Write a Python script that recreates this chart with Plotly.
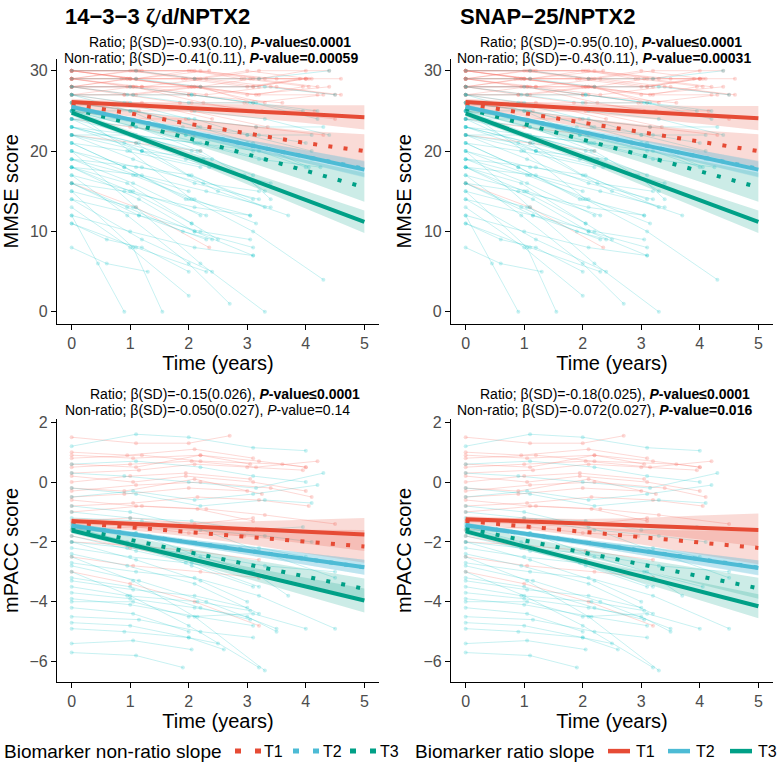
import plotly.graph_objects as go

W, H = 777, 768
SANS = "Liberation Sans, Arial, sans-serif"

TIERS = ["T1", "T2", "T3"]
TIER_COLORS = ["#E64B35", "#4DBBD5", "#00A087"]
TIER_FILLS = ["rgba(230,75,53,0.2)", "rgba(77,187,213,0.2)", "rgba(0,160,135,0.2)"]
RED_LINE = "rgba(248,118,109,0.28)"
CYAN_LINE = "rgba(0,191,196,0.22)"

FIT_TIME = [0, 1, 2, 3, 4, 5]
X_TICKS = [0, 1, 2, 3, 4, 5]
MMSE_TICKS = [0, 10, 20, 30]
MPACC_TICKS = [-6, -4, -2, 0, 2]

# ---- model fits (ratio = solid, non-ratio = dotted), tiers T1..T3 ----
MMSE_L_RATIO = [[26.1, 25.75, 25.4, 25.0, 24.6, 24.2],
                [25.5, 23.9, 22.4, 20.8, 19.3, 17.7],
                [24.8, 22.1, 19.4, 16.7, 13.9, 11.2]]
MMSE_L_RATIO_CI = [[0.4, 0.4, 0.5, 0.8, 1.1, 1.5],
                   [0.3, 0.3, 0.4, 0.6, 0.8, 1.0],
                   [0.4, 0.4, 0.5, 0.8, 1.1, 1.4]]
MMSE_L_NONRATIO = [[25.8, 24.7, 23.4, 22.2, 21.0, 20.0],
                   [25.5, 23.9, 22.3, 20.8, 19.3, 17.8],
                   [25.3, 23.5, 21.6, 19.6, 17.6, 15.5]]
MMSE_L_NONRATIO_CI = [[0.4, 0.4, 0.6, 1.0, 1.5, 2.1],
                      [0.3, 0.3, 0.4, 0.6, 0.8, 1.0],
                      [0.3, 0.4, 0.6, 0.9, 1.3, 1.8]]

MMSE_R_RATIO = [[26.1, 25.7, 25.3, 24.9, 24.5, 24.1],
                [25.5, 23.9, 22.4, 20.8, 19.3, 17.7],
                [24.7, 22.0, 19.3, 16.6, 13.9, 11.2]]
MMSE_R_RATIO_CI = [[0.4, 0.4, 0.5, 0.8, 1.1, 1.5],
                   [0.3, 0.3, 0.4, 0.6, 0.8, 1.0],
                   [0.4, 0.4, 0.5, 0.8, 1.1, 1.4]]
MMSE_R_NONRATIO = [[25.9, 24.7, 23.5, 22.3, 21.1, 20.0],
                   [25.5, 23.9, 22.3, 20.8, 19.3, 17.8],
                   [25.3, 23.4, 21.5, 19.5, 17.5, 15.5]]
MMSE_R_NONRATIO_CI = [[0.4, 0.4, 0.6, 1.0, 1.5, 2.1],
                      [0.3, 0.3, 0.4, 0.6, 0.8, 1.0],
                      [0.3, 0.4, 0.6, 0.9, 1.3, 1.8]]

MPACC_L_RATIO = [[-1.30, -1.39, -1.48, -1.57, -1.66, -1.75],
                 [-1.46, -1.74, -2.02, -2.29, -2.57, -2.85],
                 [-1.62, -2.09, -2.56, -3.03, -3.50, -3.96]]
MPACC_L_RATIO_CI = [[0.10, 0.10, 0.15, 0.25, 0.40, 0.55],
                    [0.08, 0.08, 0.10, 0.15, 0.20, 0.25],
                    [0.10, 0.10, 0.13, 0.20, 0.30, 0.40]]
MPACC_L_NONRATIO = [[-1.35, -1.51, -1.67, -1.83, -1.99, -2.15],
                    [-1.45, -1.73, -2.01, -2.29, -2.57, -2.85],
                    [-1.52, -1.93, -2.34, -2.75, -3.16, -3.57]]
MPACC_L_NONRATIO_CI = [[0.10, 0.10, 0.15, 0.25, 0.40, 0.55],
                       [0.08, 0.08, 0.10, 0.15, 0.20, 0.25],
                       [0.10, 0.10, 0.12, 0.18, 0.26, 0.35]]

MPACC_R_RATIO = [[-1.24, -1.31, -1.38, -1.45, -1.52, -1.60],
                 [-1.44, -1.73, -2.01, -2.30, -2.58, -2.87],
                 [-1.65, -2.15, -2.65, -3.15, -3.65, -4.15]]
MPACC_R_RATIO_CI = [[0.10, 0.10, 0.15, 0.25, 0.40, 0.55],
                    [0.08, 0.08, 0.10, 0.15, 0.20, 0.25],
                    [0.10, 0.10, 0.13, 0.20, 0.30, 0.40]]
MPACC_R_NONRATIO = [[-1.30, -1.48, -1.66, -1.84, -2.02, -2.20],
                    [-1.44, -1.72, -2.01, -2.29, -2.58, -2.86],
                    [-1.55, -1.95, -2.35, -2.75, -3.15, -3.55]]
MPACC_R_NONRATIO_CI = [[0.10, 0.10, 0.15, 0.25, 0.40, 0.55],
                       [0.08, 0.08, 0.10, 0.15, 0.20, 0.25],
                       [0.10, 0.10, 0.12, 0.18, 0.26, 0.35]]

# ---- individual MMSE trajectories ----
MMSE_RED_TIME = [
    [0, 1.05, 2.1, 3.0, 4.05], [0, 1.1, 2.0, 3.2, 4.0], [0, 0.95, 2.2, 3.1, 4.2], [0, 1.15, 2.05, 2.9],
    [0, 1.0, 1.95, 3.05, 4.1], [0, 1.2, 2.3, 3.4, 4.5], [0, 0.9, 2.1, 3.3], [0, 1.05, 2.15, 3.15, 3.95],
    [0, 1.1, 2.2, 3.2, 4.4], [0, 0.9, 1.85, 2.95], [0, 1.0, 2.05, 3.1, 4.0], [0, 1.1, 2.35],
    [0, 0.95, 2.0, 3.6], [0, 1.05, 2.25, 3.05, 4.15], [0, 1.2, 2.4], [0, 1.1, 2.35],
    [0, 1.2, 2.1, 3.5, 4.6], [0, 0.85, 1.9, 3.0, 3.9], [0, 1.0, 2.1, 3.2, 4.2], [0, 1.15, 2.05, 3.35],
    [0, 1.05, 1.95, 3.15, 4.3], [0, 1.0, 2.1], [0, 0.95, 2.05, 3.25, 4.5], [0, 1.1, 2.2],
    [0, 1.0, 2.15, 2.95, 4.05], [0, 0.9, 2.0, 3.1, 4.0], [0, 1.1, 2.1, 3.0],
    [0, 1.1, 2.2, 3.3, 4.0], [0, 0.95, 2.05, 3.0, 4.4], [0, 1.0, 2.1, 3.2], [0, 1.05, 2.2, 3.1, 4.3],
    [0, 1.2, 2.3, 3.5, 4.6], [0, 1.1, 2.0],
]
MMSE_RED_SCORE = [
    [30, 30, 29, 30, 29], [30, 29, 30, 29, 30], [29, 29, 28, 29, 28], [30, 30, 30, 29],
    [29, 30, 29, 29, 29], [28, 28, 27, 28, 27], [28, 27, 28, 26], [29, 28, 28, 27, 28],
    [30, 30, 29, 30, 30], [27, 27, 26, 26], [28, 29, 28, 28, 29], [30, 29, 30],
    [29, 28, 27, 26], [27, 28, 26, 25, 25], [26, 26, 24], [16, 13, 8],
    [30, 30, 30, 29, 29], [29, 29, 29, 28, 29], [28, 28, 28, 27, 27], [26, 25, 25, 23],
    [25, 24, 24, 23, 22], [24, 23, 22], [27, 26, 26, 25, 24], [22, 21, 20],
    [30, 29, 29, 29, 28], [29, 29, 28, 28, 29], [28, 27, 27, 26],
    [29, 30, 30, 29, 29], [28, 29, 28, 27, 28], [30, 29, 29, 28], [27, 27, 28, 26, 27],
    [29, 28, 29, 28, 27], [28, 28, 27],
]
MMSE_CYAN_TIME = [
    [0, 0.6, 1.3], [0, 0.45, 0.9], [0, 1.05, 1.55], [0, 1.1, 2.2, 3.3], [0, 1.0, 2.05, 3.1, 4.3],
    [0, 1.15, 2.1, 3.1], [0, 1.2, 2.4], [0, 1.1, 2.3], [0, 0.95, 2.0, 2.7], [0, 1.05, 2.1, 3.2],
    [0, 1.2, 2.5, 3.7], [0, 0.9, 2.0, 3.05], [0, 1.1, 2.15, 3.1, 4.05], [0, 1.0, 2.1, 3.3, 4.4], [0, 1.05, 2.2],
    [0, 0.95, 1.9, 2.4], [0, 1.15, 2.25, 3.2], [0, 1.0, 1.95, 3.0, 4.1], [0, 1.1, 2.0], [0, 1.0, 2.1, 3.1],
    [0, 1.05, 2.05, 3.15, 4.2], [0, 1.1, 2.2, 3.3, 4.5], [0, 0.95, 2.0, 3.05, 3.95], [0, 1.2, 2.3, 3.4], [0, 0.9, 1.95, 2.95, 3.4],
    [0, 1.05, 2.15, 3.2, 4.0], [0, 1.0, 2.0], [0, 1.1, 2.05, 3.1], [0, 0.95, 2.2], [0, 1.2, 2.25, 3.2],
    [0, 1.05, 2.1, 3.1], [0, 0.9, 2.0, 3.15, 4.3], [0, 1.1, 2.1, 3.2, 4.4], [0, 1.05, 2.3], [0, 1.0, 2.15],
    [0, 1.1, 2.05, 3.3], [0, 0.95, 1.9, 3.0, 4.1], [0, 0.6, 1.2, 2.0], [0, 1.15, 2.2, 3.05], [0, 1.05, 2.1, 3.2, 4.25],
    [0, 1.0, 2.05, 2.5], [0, 0.9, 2.1, 3.05], [0, 1.1, 2.2, 2.9, 3.3], [0, 1.2, 2.4], [0, 1.0, 1.95, 3.1],
    [0, 1.1, 2.2, 3.3], [0, 1.0, 2.05, 3.1, 4.2], [0, 0.9, 1.95], [0, 1.05, 2.1, 3.15], [0, 1.15, 2.3],
    [0, 1.0, 2.1, 3.0, 4.1], [0, 1.1, 2.0, 3.1], [0, 0.95, 2.05], [0, 1.2, 2.35, 3.4], [0, 1.05, 2.2, 3.2, 4.0],
]
MMSE_CYAN_SCORE = [
    [8, 6, 5], [12, 6, 0], [15, 8, 0], [20, 13, 6, 0], [25, 20, 14, 10, 4],
    [18, 14, 10, 7], [14, 9, 5], [11, 8, 5], [17, 12, 6, 1], [22, 19, 16, 14],
    [24, 20, 15, 12], [21, 18, 14, 12], [26, 25, 23, 21, 18], [27, 26, 25, 24, 22], [19, 16, 12],
    [16, 13, 10, 9], [23, 21, 19, 16], [25, 24, 22, 21, 19], [20, 17, 15], [12, 10, 8, 7],
    [28, 27, 27, 26, 25], [29, 29, 28, 28, 27], [27, 27, 26, 26, 25], [18, 17, 15, 13], [22, 21, 19, 17, 14],
    [23, 22, 21, 20, 18], [13, 8, 2], [24, 22, 20, 17], [21, 20, 18], [19, 18, 16, 15],
    [15, 13, 10, 8], [26, 26, 24, 23, 23], [30, 30, 29, 29, 30], [17, 15, 12], [25, 22, 20],
    [20, 18, 17, 13], [24, 24, 23, 22, 22], [11, 9, 8, 5], [14, 12, 10, 9], [22, 22, 21, 19, 18],
    [18, 15, 11, 9], [16, 15, 13, 12], [25, 23, 20, 17, 15], [23, 20, 19], [27, 25, 22, 20],
    [24, 23, 21, 19], [28, 28, 27, 26, 24], [21, 18, 14], [19, 17, 14, 11], [16, 12, 9],
    [26, 25, 24, 22, 20], [23, 21, 17, 14], [18, 16, 11], [22, 20, 18, 16], [25, 25, 23, 22, 21],
]

# ---- individual mPACC trajectories ----
MPACC_RED_TIME = [
    [0, 1.1, 2.0, 2.7], [0, 0.95, 2.1, 3.1], [0, 1.05, 2.2, 3.2, 4.0], [0, 1.0, 2.05, 3.15, 4.2], [0, 1.15, 2.1, 3.0, 3.95],
    [0, 1.0, 1.95, 3.05], [0, 1.1, 2.2, 3.4, 4.1], [0, 0.9, 2.0, 3.0], [0, 1.05, 2.15, 3.2, 4.05], [0, 1.2, 2.3, 3.3, 4.5],
    [0, 1.0, 2.1, 3.1], [0, 1.1, 2.0, 2.95], [0, 0.95, 2.05, 3.2], [0, 1.05, 2.2, 3.2], [0, 1.0, 2.1, 3.2],
    [0, 1.1, 2.2, 3.05], [0, 1.05, 1.95, 3.1, 4.0], [0, 0.9, 2.1, 3.25], [0, 1.2, 2.2, 3.6, 4.0], [0, 1.0, 2.05],
    [0, 1.1, 2.15, 3.1],
]
MPACC_RED_SCORE = [
    [1.5, 1.3, 1.3, 1.55], [1.0, 0.9, 1.1, 0.8], [0.9, 0.8, 0.9, 0.7, 0.5], [0.5, 0.6, 0.7, 0.5, 0.7],
    [0.3, 0.4, 0.6, 0.5, 0.4], [0.0, 0.2, 0.3, 0.1], [-0.3, -0.1, 0.0, -0.2, -0.5], [-0.5, -0.4, -0.2, -0.3],
    [-0.8, -0.7, -0.5, -0.6, -0.8], [-1.0, -0.8, -0.9, -1.1, -1.4], [-1.3, -1.2, -1.4, -1.2],
    [-1.6, -1.5, -1.7, -1.8], [-2.0, -2.1, -2.3, -2.6], [-2.5, -2.8, -3.0, -3.2], [-3.0, -3.4, -4.0, -4.8],
    [0.6, 0.5, 0.9, 0.6], [0.2, 0.0, 0.2, 0.0, -0.3], [-0.2, -0.3, 0.1, -0.4], [0.8, 0.9, 0.7, 0.6, 0.5],
    [-1.8, -2.2, -2.6], [-0.6, -0.8, -0.9, -1.3],
]
MPACC_CYAN_TIME = [
    [0, 1.1, 2.0, 3.1, 4.0], [0, 1.0, 2.1, 3.2, 4.5], [0, 0.95, 2.05, 3.1], [0, 1.1, 2.2, 3.0], [0, 1.05, 2.1, 3.3],
    [0, 1.0, 2.0, 3.2], [0, 1.05, 2.05], [0, 1.1, 1.9], [0, 0.9, 2.0, 2.6], [0, 1.15, 2.2, 3.1],
    [0, 1.0, 2.1, 3.0, 3.5], [0, 1.05, 2.0, 3.1, 4.0], [0, 0.95, 2.15, 3.05], [0, 1.1, 2.1, 3.2, 4.5], [0, 1.0, 1.95, 3.05, 4.05],
    [0, 1.2, 2.2, 3.3, 4.1], [0, 1.05, 2.1, 3.1, 4.2], [0, 0.9, 2.0, 3.15, 4.3], [0, 1.1, 2.05, 3.2], [0, 1.0, 2.2, 3.05],
    [0, 1.15, 2.3, 3.5], [0, 1.0, 2.05, 3.0, 3.95], [0, 1.1, 2.2, 3.3, 4.1], [0, 0.95, 2.1, 3.2], [0, 1.05, 2.0],
    [0, 1.0, 2.15, 3.1], [0, 1.1, 2.05, 3.2, 4.0], [0, 1.0, 2.0, 2.5], [0, 1.1, 2.2, 3.1, 4.0], [0, 0.95, 2.1, 3.3, 4.5],
    [0, 1.05, 2.1, 3.0], [0, 1.1, 2.2, 3.1, 3.7],
]
MPACC_CYAN_SCORE = [
    [1.2, 1.6, 1.5, 1.15, 1.05], [-0.8, -1.0, -1.5, -2.3, -3.2], [-1.5, -2.0, -2.8, -3.5],
    [-2.0, -2.6, -3.3, -4.0], [-2.5, -3.3, -4.5, -6.3], [-3.0, -3.8, -4.8, -6.2],
    [-5.4, -5.3, -5.6], [-5.7, -5.8, -6.2], [-4.9, -5.0, -5.2, -5.6], [-4.5, -4.6, -5.0, -5.2],
    [-3.7, -3.9, -4.2, -4.5, -5.0], [-4.0, -4.0, -4.5, -4.4, -4.9], [-3.5, -3.8, -4.0, -4.3],
    [-2.7, -3.0, -3.2, -3.8, -4.9], [-2.2, -2.5, -2.7, -3.0, -3.5], [-1.2, -1.3, -1.6, -1.8, -2.0],
    [-0.5, -0.3, -0.6, -0.4, -0.1], [0.3, 0.2, 0.0, -0.2, 0.3], [-1.8, -2.3, -2.7, -3.5],
    [-3.2, -3.5, -4.2, -4.6], [-2.8, -3.3, -4.0, -4.9], [-1.0, -1.2, -1.3, -1.6, -1.5],
    [-0.2, -0.4, -0.8, -0.6, -0.7], [-2.4, -2.8, -3.4, -4.4], [-4.2, -4.4, -5.0],
    [-3.9, -4.1, -4.5, -4.8], [-1.6, -1.7, -2.0, -2.2, -2.5], [-4.7, -4.8, -5.2, -5.4],
    [0.6, 0.7, 0.5, 0.2, 0.0], [-2.0, -2.2, -2.4, -2.8, -3.0], [-3.3, -3.6, -3.8, -4.2],
    [-1.4, -1.7, -2.5, -3.0, -3.8],
]

TITLES = ["<b>14\u22123\u22123 <span style='font-family:Liberation Serif'>\u03b6/d</span>/NPTX2</b>",
          "<b>SNAP\u221225/NPTX2</b>"]
STATS = [
    ("Ratio; \u03b2(SD)=-0.93(0.10), <b><i>P</i>-value\u22640.0001</b>",
     "Non-ratio; \u03b2(SD)=-0.41(0.11), <b><i>P</i>-value=0.00059</b>"),
    ("Ratio; \u03b2(SD)=-0.95(0.10), <b><i>P</i>-value\u22640.0001</b>",
     "Non-ratio; \u03b2(SD)=-0.43(0.11), <b><i>P</i>-value=0.00031</b>"),
    ("Ratio; \u03b2(SD)=-0.15(0.026), <b><i>P</i>-value\u22640.0001</b>",
     "Non-ratio; \u03b2(SD)=-0.050(0.027), <i>P</i>-value=0.14"),
    ("Ratio; \u03b2(SD)=-0.18(0.025), <b><i>P</i>-value\u22640.0001</b>",
     "Non-ratio; \u03b2(SD)=-0.072(0.027), <b><i>P</i>-value=0.016</b>"),
]

MMSE_SUBJ = ((MMSE_RED_TIME, MMSE_RED_SCORE, RED_LINE), (MMSE_CYAN_TIME, MMSE_CYAN_SCORE, CYAN_LINE))
MPACC_SUBJ = ((MPACC_RED_TIME, MPACC_RED_SCORE, RED_LINE), (MPACC_CYAN_TIME, MPACC_CYAN_SCORE, CYAN_LINE))

# ---------------- layout geometry (pixels) ----------------
panels = [
    dict(ax="", xpx=(57, 379), ypx=(54, 321), yr=[-1.5, 31.5], ytk=MMSE_TICKS, ytitle="MMSE score",
         subj=MMSE_SUBJ, fits=(MMSE_L_RATIO, MMSE_L_RATIO_CI, MMSE_L_NONRATIO, MMSE_L_NONRATIO_CI),
         stat_xy=((87, 37), (62, 53))),
    dict(ax="2", xpx=(451, 773), ypx=(54, 321), yr=[-1.5, 31.5], ytk=MMSE_TICKS, ytitle="MMSE score",
         subj=MMSE_SUBJ, fits=(MMSE_R_RATIO, MMSE_R_RATIO_CI, MMSE_R_NONRATIO, MMSE_R_NONRATIO_CI),
         stat_xy=((478, 37), (455, 53))),
    dict(ax="3", xpx=(57, 379), ypx=(417, 681), yr=[-6.67, 2.1], ytk=MPACC_TICKS, ytitle="mPACC score",
         subj=MPACC_SUBJ, fits=(MPACC_L_RATIO, MPACC_L_RATIO_CI, MPACC_L_NONRATIO, MPACC_L_NONRATIO_CI),
         stat_xy=((88, 392), (63, 408))),
    dict(ax="4", xpx=(451, 773), ypx=(417, 681), yr=[-6.67, 2.1], ytk=MPACC_TICKS, ytitle="mPACC score",
         subj=MPACC_SUBJ, fits=(MPACC_R_RATIO, MPACC_R_RATIO_CI, MPACC_R_NONRATIO, MPACC_R_NONRATIO_CI),
         stat_xy=((478, 392), (455, 408))),
]

DOT_DASH = "4px,11.3px"

fig = go.Figure()
annotations = []
shapes = []

for pi, p in enumerate(panels):
    xa, ya = "x" + p["ax"], "y" + p["ax"]
    for times, scores, col in p["subj"]:
        for t, s in zip(times, scores):
            fig.add_trace(go.Scatter(x=t, y=s, mode="lines+markers", xaxis=xa, yaxis=ya,
                                     line=dict(color=col, width=1), marker=dict(color=col, size=4),
                                     showlegend=False, hoverinfo="skip"))
    ratio, ratio_ci, non, non_ci = p["fits"]
    for fit, ci in ((non, non_ci), (ratio, ratio_ci)):
        for k in range(3):
            up = [v + c for v, c in zip(fit[k], ci[k])]
            lo = [v - c for v, c in zip(fit[k], ci[k])]
            fig.add_trace(go.Scatter(x=FIT_TIME, y=up, mode="lines", xaxis=xa, yaxis=ya,
                                     line=dict(width=0, color=TIER_FILLS[k]), showlegend=False, hoverinfo="skip"))
            fig.add_trace(go.Scatter(x=FIT_TIME, y=lo, mode="lines", xaxis=xa, yaxis=ya, fill="tonexty",
                                     fillcolor=TIER_FILLS[k], line=dict(width=0, color=TIER_FILLS[k]),
                                     showlegend=False, hoverinfo="skip"))
    for k in range(3):
        fig.add_trace(go.Scatter(x=FIT_TIME, y=non[k], mode="lines", xaxis=xa, yaxis=ya,
                                 line=dict(color=TIER_COLORS[k], width=4, dash=DOT_DASH),
                                 showlegend=False, name="non-ratio " + TIERS[k]))
    for k in range(3):
        fig.add_trace(go.Scatter(x=FIT_TIME, y=ratio[k], mode="lines", xaxis=xa, yaxis=ya,
                                 line=dict(color=TIER_COLORS[k], width=4),
                                 showlegend=False, name="ratio " + TIERS[k]))

    axis_common = dict(showline=True, linecolor="black", linewidth=1.2, ticks="outside", ticklen=5,
                       tickwidth=1.2, tickcolor="black", showgrid=False, zeroline=False,
                       tickfont=dict(family=SANS, size=16, color="#4D4D4D"))
    fig.layout["xaxis" + p["ax"]] = dict(
        domain=[p["xpx"][0] / W, p["xpx"][1] / W], range=[-0.25, 5.25], tickvals=X_TICKS, anchor=ya,
        title=dict(text="Time (years)", font=dict(family=SANS, size=20, color="black"), standoff=3),
        **axis_common)
    fig.layout["yaxis" + p["ax"]] = dict(
        domain=[1 - p["ypx"][1] / H, 1 - p["ypx"][0] / H], range=p["yr"], tickvals=p["ytk"], anchor=xa,
        title=dict(text=p["ytitle"], font=dict(family=SANS, size=20, color="black"), standoff=6),
        **axis_common)
    (rx, ry), (nx, ny) = p["stat_xy"]
    for txt, sx, sy in ((STATS[pi][0], rx, ry), (STATS[pi][1], nx, ny)):
        annotations.append(dict(text=txt, x=sx / W, y=1 - sy / H, xref="paper", yref="paper",
                                xanchor="left", yanchor="middle", showarrow=False,
                                font=dict(family=SANS, size=14, color="black")))

for txt, tx in zip(TITLES, (63, 458)):
    annotations.append(dict(text=txt, x=tx / W, y=1 - 12 / H, xref="paper", yref="paper",
                            xanchor="left", yanchor="middle", showarrow=False,
                            font=dict(family=SANS, size=22, color="black")))

# legend (bottom)
LEG_Y = 1 - 751 / H
annotations.append(dict(text="Biomarker non-ratio slope", x=2 / W, y=LEG_Y, xref="paper", yref="paper",
                        xanchor="left", yanchor="middle", showarrow=False, font=dict(family=SANS, size=19, color="black")))
annotations.append(dict(text="Biomarker ratio slope", x=413 / W, y=LEG_Y, xref="paper", yref="paper",
                        xanchor="left", yanchor="middle", showarrow=False, font=dict(family=SANS, size=19, color="black")))
leg_non = [(235, 261, 262), (293, 319, 321), (350, 376, 378)]
leg_rat = [(608, 630, 634), (668, 690, 694), (730, 752, 756)]
for k in range(3):
    a, b, tx = leg_non[k]
    shapes.append(dict(type="line", xref="paper", yref="paper", x0=a / W, x1=b / W, y0=LEG_Y, y1=LEG_Y,
                       line=dict(color=TIER_COLORS[k], width=5, dash="6px,14px")))
    annotations.append(dict(text=TIERS[k], x=tx / W, y=LEG_Y, xref="paper", yref="paper", xanchor="left",
                            yanchor="middle", showarrow=False, font=dict(family=SANS, size=16, color="black")))
    a, b, tx = leg_rat[k]
    shapes.append(dict(type="line", xref="paper", yref="paper", x0=a / W, x1=b / W, y0=LEG_Y, y1=LEG_Y,
                       line=dict(color=TIER_COLORS[k], width=4.5)))
    annotations.append(dict(text=TIERS[k], x=tx / W, y=LEG_Y, xref="paper", yref="paper", xanchor="left",
                            yanchor="middle", showarrow=False, font=dict(family=SANS, size=16, color="black")))

fig.update_layout(width=W, height=H, margin=dict(l=0, r=0, t=0, b=0),
                  paper_bgcolor="white", plot_bgcolor="white", showlegend=False,
                  font=dict(family=SANS), annotations=annotations, shapes=shapes)

fig.write_html("out.html", config={"displayModeBar": False},
               post_script="document.body.style.margin='0px';document.body.style.overflow='hidden';")
